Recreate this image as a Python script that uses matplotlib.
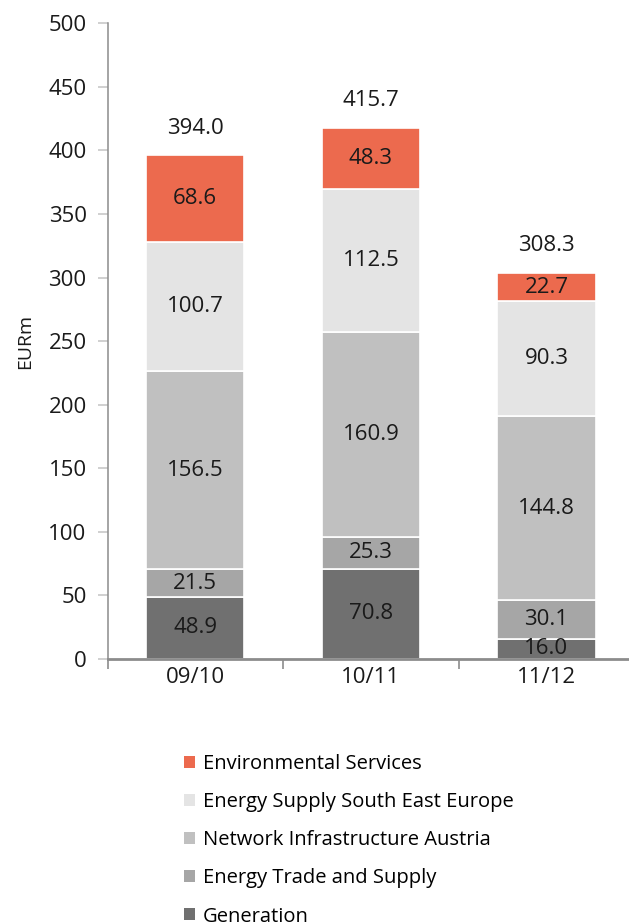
import numpy as np
import matplotlib.pyplot as plt

plt.rcParams['font.family'] = ['Open Sans', 'DejaVu Sans']

years = ["09/10", "10/11", "11/12"]
generation = [48.9, 70.8, 16.0]
energy_trade = [21.5, 25.3, 30.1]
network_austria = [156.5, 160.9, 144.8]
energy_see = [100.7, 112.5, 90.3]
environmental = [68.6, 48.3, 22.7]
totals = [394.0, 415.7, 308.3]

segments = ["Generation", "Energy Trade and Supply", "Network Infrastructure Austria",
            "Energy Supply South East Europe", "Environmental Services"]
colors = ["#707070", "#a6a6a6", "#c0c0c0", "#e4e4e4", "#ec6a4e"]
series = [generation, energy_trade, network_austria, energy_see, environmental]

fig = plt.figure(figsize=(6.29, 9.24), dpi=100)
ax = fig.add_axes([107.5 / 629, 1 - 659 / 924, 1 - 107.5 / 629, (659 - 23.3) / 924])

x = np.arange(len(years))
bottom = np.zeros(len(years))
handles = []
for name, vals, col in zip(segments, series, colors):
    vals = np.array(vals)
    bars = ax.bar(x, vals, 0.56, bottom=bottom, color=col, edgecolor="white",
                  linewidth=1.2, label=name)
    handles.append(bars)
    for xi, b, v in zip(x, bottom, vals):
        ax.text(xi, b + v / 2, f"{v:.1f}", ha="center", va="center",
                fontsize=16, color="#1a1a1a")
    bottom += vals

# totals above the bars
for xi, top, t in zip(x, bottom, totals):
    ax.annotate(f"{t:.1f}", (xi, top), xytext=(0, 19.5), textcoords="offset points",
                ha="center", va="center", fontsize=16, color="#1a1a1a")

ax.set_xlim(-0.5, 2.47)
ax.set_ylim(0, 500)
ax.set_yticks(np.arange(0, 501, 50))
ax.set_xticks(x)
ax.set_xticklabels(years)
ax.set_xticks([-0.5, 0.5, 1.5], minor=True)
ax.tick_params(axis="x", which="major", length=0, labelsize=16, pad=6, labelcolor="#1a1a1a")
ax.tick_params(axis="x", which="minor", length=7, color="#8c8c8c", width=1.2)
ax.tick_params(axis="y", length=7, color="#c8c8c8", width=1.2, labelsize=16,
               pad=8, labelcolor="#1a1a1a")
for s in ["top", "right"]:
    ax.spines[s].set_visible(False)
ax.spines["left"].set_color("#8c8c8c")
ax.spines["left"].set_linewidth(1.1)
ax.spines["bottom"].set_color("#8c8c8c")
ax.spines["bottom"].set_linewidth(2)
ax.set_ylabel("EURm", fontsize=14, color="#1a1a1a", labelpad=10)

leg = fig.legend(handles[::-1], segments[::-1], loc="upper left",
                 bbox_to_anchor=(176 / 629, 1 - 746 / 924), frameon=False,
                 fontsize=14.5, handlelength=0.55, handleheight=0.55,
                 handletextpad=0.4, labelspacing=0.9, borderaxespad=0)
for h in leg.legend_handles:
    h.set_edgecolor("none")

fig.savefig("out.png", dpi=100)
